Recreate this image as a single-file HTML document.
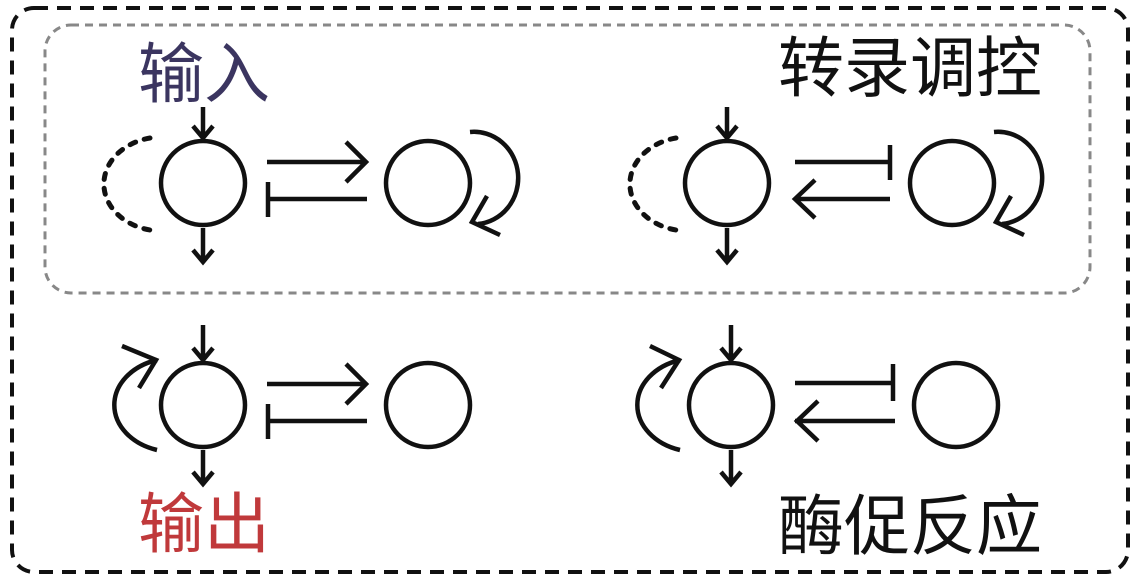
<!DOCTYPE html>
<html><head><meta charset="utf-8"><style>
html,body{margin:0;padding:0;background:#fff;}
svg{display:block;}
text{font-family:"Liberation Sans","Noto Sans CJK SC",sans-serif;font-size:66px;}
</style></head><body>
<svg width="1137" height="582" viewBox="0 0 1137 582" xmlns="http://www.w3.org/2000/svg">
<rect x="12" y="8" width="1116" height="564" rx="22" fill="none" stroke="#111" stroke-width="4" stroke-dasharray="14,9"/>
<rect x="45" y="25" width="1045" height="268" rx="26" fill="none" stroke="#888" stroke-width="3" stroke-dasharray="8,6"/>
<text x="138" y="97" fill="#3b3560">输入</text>
<text x="778" y="91" fill="#111">转录调控</text>
<text x="138" y="547" fill="#c0393b">输出</text>
<text x="778" y="549" fill="#111">酶促反应</text>
<g fill="none" stroke="#111" stroke-width="4.5">
<!-- top-left -->
<circle cx="203" cy="183" r="42"/>
<circle cx="428" cy="183" r="42"/>
<path d="M203 107 V138 M193 126 L203 138 L213 126"/>
<path d="M203 228 V262 M193 250 L203 262 L213 250"/>
<path d="M267 162 H366 M346 142 L366 162 L346 182"/>
<path d="M268 199 H367 M268 182 V217"/>
<path d="M150 138 A58 47 0 0 0 150 230" stroke-dasharray="6,9" stroke-width="5" stroke-linecap="round"/>
<path d="M470 132 A44 46 0 0 1 478 224"/>
<path d="M487 196 L472 222 L500 235"/>
<!-- top-right -->
<circle cx="727" cy="183" r="42"/>
<circle cx="952" cy="183" r="42"/>
<path d="M727 107 V138 M717 126 L727 138 L737 126"/>
<path d="M727 228 V262 M717 250 L727 262 L737 250"/>
<path d="M795 162 H890 M890 145 V180"/>
<path d="M795 199 H890 M815 180 L795 199 L815 218"/>
<path d="M676 138 A58 47 0 0 0 676 230" stroke-dasharray="6,9" stroke-width="5" stroke-linecap="round"/>
<path d="M994 132 A44 46 0 0 1 1002 224"/>
<path d="M1011 196 L996 222 L1024 235"/>
<!-- bottom-left -->
<circle cx="203" cy="405" r="42"/>
<circle cx="428" cy="405" r="42"/>
<path d="M203 325 V360 M193 348 L203 360 L213 348"/>
<path d="M203 450 V484 M193 472 L203 484 L213 472"/>
<path d="M267 384 H366 M346 364 L366 384 L346 404"/>
<path d="M268 421 H367 M268 404 V439"/>
<path d="M157 360 A60 47 0 0 0 157 450"/>
<path d="M122 346 L156 360 L139 388"/>
<!-- bottom-right -->
<circle cx="731" cy="405" r="42"/>
<circle cx="956" cy="405" r="42"/>
<path d="M731 325 V360 M721 348 L731 360 L741 348"/>
<path d="M731 450 V484 M721 472 L731 484 L741 472"/>
<path d="M795 383 H893 M893 364 V401"/>
<path d="M795 421 H895 M818 401 L797 421 L818 441"/>
<path d="M680 360 A60 47 0 0 0 680 450"/>
<path d="M650 346 L679 360 L661 388"/>
</g>
</svg>
</body></html>
